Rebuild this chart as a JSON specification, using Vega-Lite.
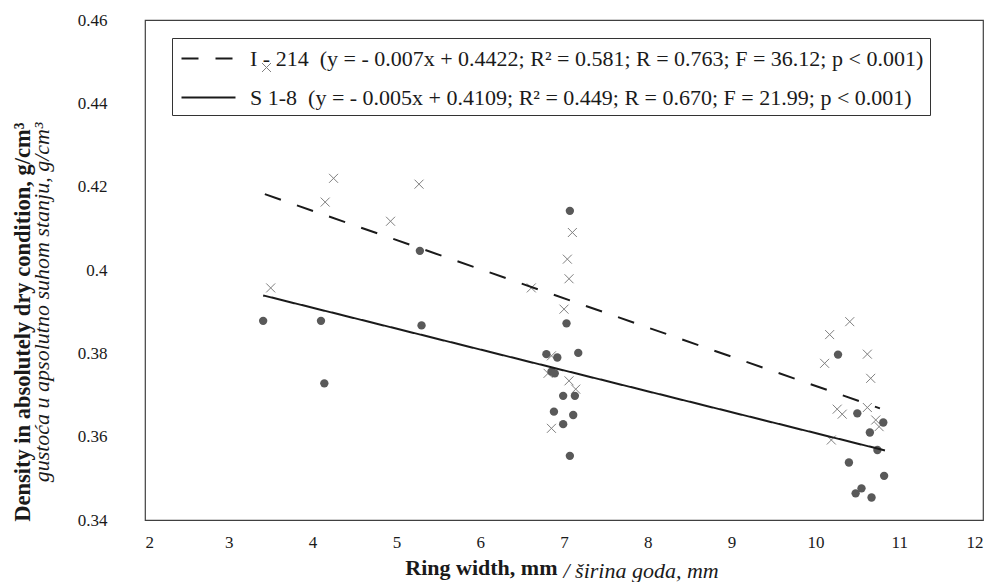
{
  "$schema": "https://vega.github.io/schema/vega-lite/v6.json",
  "autosize": {"type": "none"},
  "width": 838,
  "height": 500,
  "padding": {"left": 145, "top": 20, "right": 10, "bottom": 62},
  "background": "white",
  "config": {
    "view": {"stroke": "#404040", "strokeWidth": 1.2},
    "font": "Liberation Serif",
    "axis": {"grid": false, "domain": false, "ticks": false, "labelFont": "Liberation Serif", "labelFontSize": 17, "labelColor": "#1a1a1a", "titleFont": "Liberation Serif", "titleFontSize": 22, "titleColor": "#1a1a1a"},
    "legend": {"labelFont": "Liberation Serif"}
  },
  "datasets": {
    "points": [
      {"series": "I - 214", "x": 3.45, "y": 0.4486},
      {"series": "I - 214", "x": 3.5, "y": 0.3957},
      {"series": "I - 214", "x": 4.15, "y": 0.4163},
      {"series": "I - 214", "x": 4.25, "y": 0.422},
      {"series": "I - 214", "x": 4.93, "y": 0.4117},
      {"series": "I - 214", "x": 5.27, "y": 0.4206},
      {"series": "I - 214", "x": 6.61, "y": 0.3957},
      {"series": "I - 214", "x": 7.1, "y": 0.409},
      {"series": "I - 214", "x": 7.04, "y": 0.4026},
      {"series": "I - 214", "x": 7.06, "y": 0.3979},
      {"series": "I - 214", "x": 7.0, "y": 0.3906},
      {"series": "I - 214", "x": 6.85, "y": 0.3794},
      {"series": "I - 214", "x": 6.81, "y": 0.3752},
      {"series": "I - 214", "x": 7.06, "y": 0.3734},
      {"series": "I - 214", "x": 7.14, "y": 0.3714},
      {"series": "I - 214", "x": 6.85, "y": 0.362},
      {"series": "I - 214", "x": 10.41, "y": 0.3876},
      {"series": "I - 214", "x": 10.17, "y": 0.3845},
      {"series": "I - 214", "x": 10.62, "y": 0.3798},
      {"series": "I - 214", "x": 10.11, "y": 0.3776},
      {"series": "I - 214", "x": 10.66, "y": 0.374},
      {"series": "I - 214", "x": 10.26, "y": 0.3666},
      {"series": "I - 214", "x": 10.32, "y": 0.3654},
      {"series": "I - 214", "x": 10.62, "y": 0.367},
      {"series": "I - 214", "x": 10.72, "y": 0.364},
      {"series": "I - 214", "x": 10.76, "y": 0.3624},
      {"series": "I - 214", "x": 10.19, "y": 0.3592},
      {"series": "S 1-8", "x": 3.41, "y": 0.3878},
      {"series": "S 1-8", "x": 4.1, "y": 0.3878},
      {"series": "S 1-8", "x": 4.14, "y": 0.3728},
      {"series": "S 1-8", "x": 5.28, "y": 0.4046},
      {"series": "S 1-8", "x": 5.3, "y": 0.3867},
      {"series": "S 1-8", "x": 7.07, "y": 0.4142},
      {"series": "S 1-8", "x": 7.03, "y": 0.3872},
      {"series": "S 1-8", "x": 6.79, "y": 0.3798},
      {"series": "S 1-8", "x": 6.92, "y": 0.379},
      {"series": "S 1-8", "x": 7.17, "y": 0.3801},
      {"series": "S 1-8", "x": 6.85, "y": 0.3756},
      {"series": "S 1-8", "x": 6.89, "y": 0.3752},
      {"series": "S 1-8", "x": 6.99, "y": 0.3698},
      {"series": "S 1-8", "x": 7.13, "y": 0.3698},
      {"series": "S 1-8", "x": 6.88, "y": 0.366},
      {"series": "S 1-8", "x": 7.11, "y": 0.3652},
      {"series": "S 1-8", "x": 6.99, "y": 0.363},
      {"series": "S 1-8", "x": 7.07, "y": 0.3554},
      {"series": "S 1-8", "x": 10.27, "y": 0.3797},
      {"series": "S 1-8", "x": 10.5, "y": 0.3656},
      {"series": "S 1-8", "x": 10.81, "y": 0.3634},
      {"series": "S 1-8", "x": 10.65, "y": 0.361},
      {"series": "S 1-8", "x": 10.74, "y": 0.3568},
      {"series": "S 1-8", "x": 10.4, "y": 0.3538},
      {"series": "S 1-8", "x": 10.82, "y": 0.3506},
      {"series": "S 1-8", "x": 10.48, "y": 0.3464},
      {"series": "S 1-8", "x": 10.55, "y": 0.3476},
      {"series": "S 1-8", "x": 10.67, "y": 0.3454}
    ],
    "fits": [
      {"series": "I - 214", "x": 3.43, "y": 0.4182},
      {"series": "I - 214", "x": 10.77, "y": 0.3668},
      {"series": "S 1-8", "x": 3.41, "y": 0.3939},
      {"series": "S 1-8", "x": 10.83, "y": 0.3567}
    ]
  },
  "resolve": {"scale": {"x": "independent", "y": "independent"}},
  "layer": [
    {
      "layer": [
        {
          "data": {"name": "points"},
          "transform": [{"filter": "datum.series == 'I - 214'"}],
          "mark": {"type": "point", "shape": "M-1,-1L1,1M1,-1L-1,1", "filled": false, "stroke": "#7f7f7f", "strokeWidth": 1, "size": 81, "opacity": 1},
          "encoding": {
            "x": {"field": "x", "type": "quantitative"},
            "y": {"field": "y", "type": "quantitative"}
          }
        },
        {
          "data": {"name": "points"},
          "transform": [{"filter": "datum.series == 'S 1-8'"}],
          "mark": {"type": "circle", "size": 70, "color": "#595959", "opacity": 1},
          "encoding": {
            "x": {"field": "x", "type": "quantitative"},
            "y": {"field": "y", "type": "quantitative"}
          }
        },
        {
          "data": {"name": "fits"},
          "mark": {"type": "line", "color": "#1a1a1a", "strokeWidth": 2},
          "encoding": {
            "x": {"field": "x", "type": "quantitative"},
            "y": {"field": "y", "type": "quantitative"},
            "strokeDash": {
              "field": "series", "type": "nominal",
              "scale": {"domain": ["I - 214", "S 1-8"], "range": [[17, 17], [1, 0]]},
              "legend": {
                "title": null, "orient": "none", "legendX": 27, "legendY": 18,
                "strokeColor": "#333333", "padding": 6, "rowPadding": 13,
                "symbolType": "M-2,0L2,0", "symbolSize": 729, "symbolOffset": 16, "symbolStrokeWidth": 2, "symbolStrokeColor": "#1a1a1a", "symbolFillColor": "transparent",
                "labelFont": "Liberation Serif", "labelFontSize": 22, "labelColor": "#1a1a1a", "labelLimit": 2000, "labelOffset": 27,
                "labelExpr": "datum.label == 'I - 214' ? 'I - 214\u00a0\u00a0(y = - 0.007x + 0.4422; R\u00b2 = 0.581; R = 0.763; F = 36.12; p < 0.001)' : 'S 1-8\u00a0\u00a0(y = - 0.005x + 0.4109; R\u00b2 = 0.449; R = 0.670; F = 21.99; p < 0.001)'"
              }
            }
          }
        }
      ],
      "encoding": {
        "x": {"field": "x", "type": "quantitative",
          "scale": {"domain": [2, 12], "nice": false, "zero": false},
          "axis": {"values": [2, 3, 4, 5, 6, 7, 8, 9, 10, 11, 12], "format": "d", "labelPadding": 14, "labelFont": "Liberation Serif", "labelFontSize": 17,
            "title": "Ring width, mm", "titleFont": "Liberation Serif", "titleFontSize": 22, "titleFontWeight": "bold", "titleX": 412, "titleAlign": "right", "titlePadding": 7}},
        "y": {"field": "y", "type": "quantitative",
          "scale": {"domain": [0.34, 0.46], "nice": false, "zero": false},
          "axis": {"values": [0.34, 0.36, 0.38, 0.4, 0.42, 0.44, 0.46], "format": "~g", "labelPadding": 38, "labelFont": "Liberation Serif", "labelFontSize": 17,
            "title": "Density in absolutely dry condition, g/cm\u00b3", "titleFont": "Liberation Serif", "titleFontSize": 22.5, "titleFontWeight": "bold", "titleY": 102, "titleAlign": "right", "titlePadding": 43}}
      }
    },
    {
      "data": {"name": "fits"},
      "mark": {"type": "point", "opacity": 0},
      "encoding": {
        "x": {"field": "x", "type": "quantitative",
          "scale": {"domain": [2, 12], "nice": false, "zero": false},
          "axis": {"orient": "bottom", "labels": false, "title": "/ \u0161irina goda, mm", "titleFont": "Liberation Serif", "titleFontSize": 22, "titleFontStyle": "italic", "titleFontWeight": "normal", "titleX": 418, "titleAlign": "left", "titlePadding": 40}},
        "y": {"field": "y", "type": "quantitative",
          "scale": {"domain": [0.34, 0.46], "nice": false, "zero": false},
          "axis": {"orient": "left", "labels": false, "title": "gusto\u0107a u apsolutno suhom stanju, g/cm\u00b3", "titleFont": "Liberation Serif", "titleFontSize": 22, "titleFontStyle": "italic", "titleFontWeight": "normal", "titleY": 102, "titleAlign": "right", "titlePadding": 92}}
      }
    }
  ]
}
